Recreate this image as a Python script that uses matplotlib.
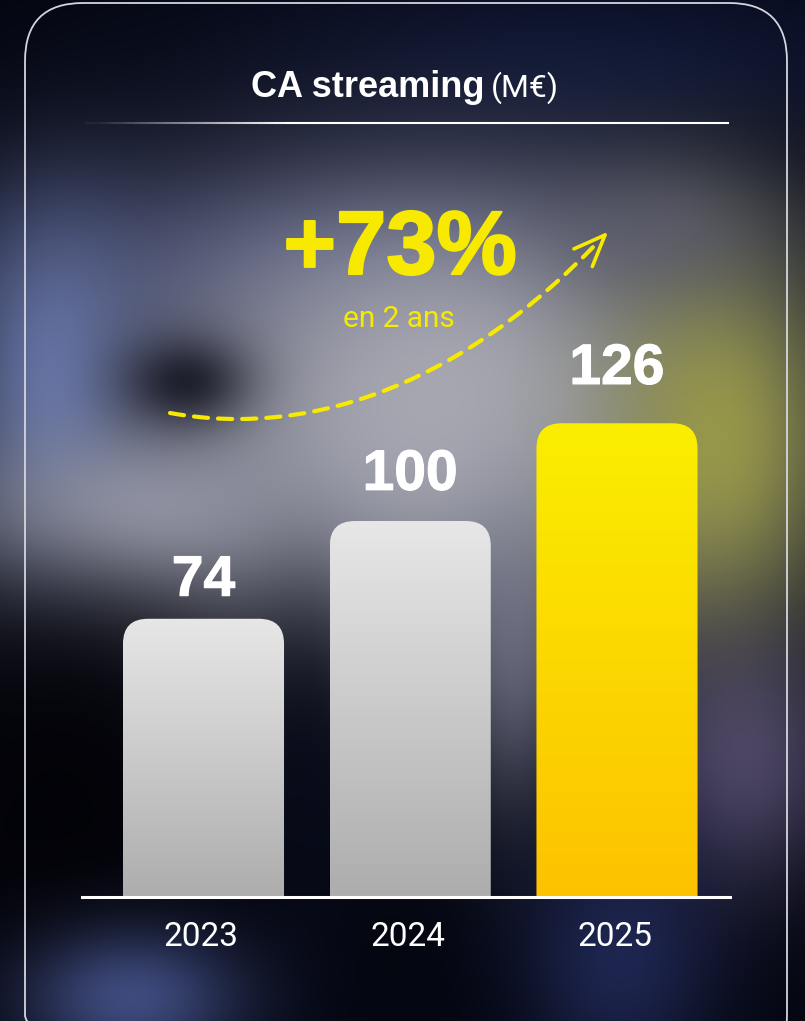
import numpy as np
import matplotlib
matplotlib.use("Agg")
import matplotlib.pyplot as plt
import matplotlib.patheffects as pe
from matplotlib.patches import FancyBboxPatch, PathPatch
from matplotlib.collections import LineCollection
from matplotlib.path import Path
from matplotlib.colors import LinearSegmentedColormap

plt.rcParams['font.family'] = ['Roboto', 'DejaVu Sans']

# data
years = ['2023', '2024', '2025']
values = [74, 100, 126]
growth_label = '+73%'
growth_sub = 'en 2 ans'
title_bold = 'CA streaming'
title_unit = '(M€)'

W, H = 805, 1021
fig = plt.figure(figsize=(W / 100, H / 100), dpi=100)

# ---- blurred background (decor only)
bg = fig.add_axes([0, 0, 1, 1])
bg.set_xlim(0, W)
bg.set_ylim(H, 0)
bg.axis('off')

gx, gy = np.meshgrid(np.linspace(0, W, 202), np.linspace(0, H, 256))
img = np.zeros(gx.shape + (3,))
img[:] = np.array([0.012, 0.02, 0.06])
blobs = [
    # cx, cy, sx, sy, color, amp
    (600, 60, 260, 70, (0.05, 0.08, 0.20), 0.9),
    (300, 270, 260, 80, (0.24, 0.27, 0.45), 0.75),
    (420, 440, 250, 160, (0.60, 0.61, 0.67), 0.95),
    (450, 380, 140, 110, (0.68, 0.68, 0.71), 0.8),
    (50, 390, 60, 120, (0.45, 0.52, 0.75), 0.8),
    (120, 520, 110, 60, (0.74, 0.75, 0.82), 0.85),
    (185, 382, 45, 32, (0.05, 0.05, 0.10), 0.8),
    (60, 800, 120, 170, (0.01, 0.01, 0.03), 0.95),
    (305, 790, 40, 120, (0.03, 0.04, 0.10), 0.8),
    (515, 650, 40, 110, (0.50, 0.51, 0.60), 0.6),
    (720, 440, 80, 130, (0.62, 0.62, 0.28), 0.9),
    (745, 760, 70, 90, (0.40, 0.36, 0.52), 0.7),
    (660, 230, 80, 50, (0.38, 0.38, 0.46), 0.6),
    (130, 1000, 80, 50, (0.30, 0.36, 0.60), 0.8),
    (620, 960, 70, 90, (0.16, 0.20, 0.42), 0.7),
]
for cx, cy, sx, sy, col, amp in blobs:
    w = amp * np.exp(-((gx - cx) ** 2 / (2 * sx ** 2) + (gy - cy) ** 2 / (2 * sy ** 2)))
    img = img * (1 - w[..., None]) + np.array(col) * w[..., None]
bg.imshow(img, extent=(0, W, H, 0), aspect='auto', interpolation='bilinear', zorder=0)

# card border
card = FancyBboxPatch((25, 3), 762, 1070, boxstyle="round,pad=0,rounding_size=58",
                      facecolor='none', edgecolor='#d4d6de', lw=1.3, zorder=2)
bg.add_patch(card)

# title
bg.text(484, 97, title_bold, ha='right', va='baseline', color='white',
        fontsize=26, fontweight='bold', family=['Liberation Sans', 'DejaVu Sans'],
        zorder=5)
bg.text(491, 97, title_unit, ha='left', va='baseline', color='white',
        fontsize=23, fontweight='normal', zorder=5)

# separator with fade from the left
xs = np.linspace(85, 729, 120)
segs = [[(xs[i], 123), (xs[i + 1], 123)] for i in range(len(xs) - 1)]
alph = np.clip((xs[:-1] - 85) / 200, 0.05, 1)
cols = [(1, 1, 1, a) for a in alph]
bg.add_collection(LineCollection(segs, colors=cols, linewidths=1.5, zorder=4))

# growth text
yellow = '#f7ea00'
bg.text(400, 274, growth_label, ha='center', va='baseline', color=yellow,
        fontsize=65, fontweight='bold', family=['Liberation Sans', 'DejaVu Sans'],
        path_effects=[pe.withStroke(linewidth=1.5, foreground=yellow)], zorder=5)
bg.text(399, 327, growth_sub, ha='center', va='baseline', color=yellow,
        fontsize=21.5, fontweight='normal', zorder=5)

# dashed curved arrow
p0, p1, p2, p3 = (170, 413), (320, 440), (470, 375), (597, 243)
curve = Path([p0, p1, p2, p3], [Path.MOVETO, Path.CURVE4, Path.CURVE4, Path.CURVE4])
bg.add_patch(PathPatch(curve, facecolor='none', edgecolor=yellow, lw=3,
                       linestyle=(0, (3.4, 2.4)), capstyle='round', zorder=5))
tip = np.array([605.0, 235.0])
back = np.array(p2) - np.array(p3)
ang = np.arctan2(back[1], back[0])
for da in (np.radians(22), -np.radians(22)):
    end = tip + 34 * np.array([np.cos(ang + da), np.sin(ang + da)])
    bg.plot([tip[0], end[0]], [tip[1], end[1]], color=yellow, lw=2.6,
            solid_capstyle='round', zorder=5)

# ---- bars
ax = fig.add_axes([82 / W, (H - 897) / H, 648 / W, 767 / H])
ax.set_xlim(-0.5877, 2.5466)
ax.set_ylim(0, 204)
ax.axis('off')
ax.patch.set_alpha(0)

x = np.arange(len(years))
rects = ax.bar(x, values, width=0.779, alpha=0)

px_x = 648 / (2.5466 + 0.5877)
px_y = 767 / 204
grey_cm = LinearSegmentedColormap.from_list('g', ['#adadad', '#e7e7e7'])
yell_cm = LinearSegmentedColormap.from_list('y', ['#fdc200', '#faee00'])
grad = np.linspace(0, 1, 256).reshape(-1, 1)

for i, r in enumerate(rects):
    x0, w, h = r.get_x(), r.get_width(), r.get_height()
    clip = FancyBboxPatch((x0, -20), w, h + 20,
                          boxstyle="round,pad=0,rounding_size=%f" % (25 / px_x),
                          mutation_aspect=px_x / px_y, facecolor='none',
                          edgecolor='none')
    ax.add_patch(clip)
    cm = yell_cm if i == len(rects) - 1 else grey_cm
    im = ax.imshow(grad, extent=(x0, x0 + w, 0, h), origin='lower', aspect='auto',
                   cmap=cm, zorder=2)
    im.set_clip_path(clip)
    ax.text(i, values[i] * 1.083, str(values[i]), ha='center', va='baseline',
            color='white', fontsize=41, fontweight='bold',
            family=['Liberation Sans', 'DejaVu Sans'],
            path_effects=[pe.withStroke(linewidth=0.8, foreground='white')], zorder=4)
    ax.text(i - 0.01, -10.6, years[i], ha='center', va='center', color='white',
            fontsize=24, clip_on=False, zorder=4)

ax.set_xlim(-0.5877, 2.5466)
ax.set_ylim(0, 204)
ax.axhline(0, color='white', lw=2.2, zorder=5, clip_on=False)

fig.savefig('out.png', dpi=100)
